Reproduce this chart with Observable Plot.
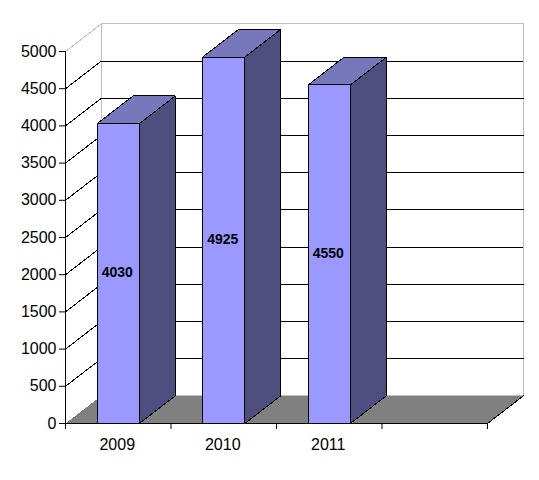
<!DOCTYPE html>
<html>
<head>
<meta charset="utf-8">
<script src="https://cdn.jsdelivr.net/npm/d3@7"></script>
<script src="https://cdn.jsdelivr.net/npm/@observablehq/plot@0.6"></script>
<style>html,body{margin:0;padding:0;background:#fff}svg{display:block}</style>
</head>
<body>
<div id="chart"></div>
<script>
const categories = ["2009", "2010", "2011"];
const values = [4030, 4925, 4550];
const yTicks = d3.range(0, 5001, 500);
const slotCount = 4;

const font = "Liberation Sans, Arial, sans-serif";
const depthX = 0.34;   // depth offset in category slots
const depthY = 372;    // depth offset in value units
const barStart = 0.3, barWidth = 0.4;
const light = "#9999ff", top_ = "#7777bb", side = "#4f4f7f", floor = "#808080", wall = "#c0c0c0";

const face = (pts, opts) => Plot.line([...pts, pts[0]], {x: "0", y: "1", curve: "linear", strokeWidth: 1, strokeLinejoin: "miter", shapeRendering: "crispEdges", ...opts});
const seg = (pts, stroke) => Plot.line(pts, {x: "0", y: "1", stroke, strokeWidth: 1, shapeRendering: "crispEdges"});

const marks = [
  // floor
  face([[0,0],[slotCount,0],[slotCount+depthX,depthY],[depthX,depthY]], {fill: floor, stroke: "none"}),
  // walls
  seg([[0,5000],[depthX,5000+depthY],[slotCount+depthX,5000+depthY],[slotCount+depthX,depthY],[depthX,depthY]], wall),
  seg([[depthX,depthY],[depthX,5000+depthY]], wall),
  seg([[slotCount,0],[slotCount+depthX,depthY]], "#000"),
];
// gridlines
for (const t of yTicks.slice(1, -1)) {
  marks.push(seg([[0,t],[depthX,t+depthY],[slotCount+depthX,t+depthY]], "#000"));
}
// bars
values.forEach((v, i) => {
  const x0 = i + barStart, x1 = x0 + barWidth;
  marks.push(
    face([[x1,0],[x1+depthX,depthY],[x1+depthX,v+depthY],[x1,v]], {fill: side, stroke: "#000"}),
    face([[x0,v],[x1,v],[x1+depthX,v+depthY],[x0+depthX,v+depthY]], {fill: top_, stroke: "#000"}),
    face([[x0,0],[x1,0],[x1,v],[x0,v]], {fill: light, stroke: "#000"})
  );
});
marks.push(
  Plot.axisY({ticks: yTicks, tickSize: 6, tickPadding: 3, tickFormat: "d", label: null, fontSize: 16, anchor: "left", stroke: "#000", color: "#000"}),
  Plot.axisX({ticks: d3.range(0, slotCount + 1), tickSize: 6, tickFormat: () => "", label: null, anchor: "bottom", stroke: "#000"}),
  seg([[0,0],[0,5000]], "#000"),
  seg([[0,0],[slotCount,0]], "#000"),
  Plot.text(values, {x: (d, i) => i + barStart + barWidth / 2, y: d => d / 2, text: d => String(d), dx: -1, dy: -1, fontWeight: "bold", fontSize: 14, fill: "#000"}),
  Plot.text(categories, {x: (d, i) => i + 0.5, y: 0, text: d => d, dx: -1, dy: 21, fontSize: 16, fill: "#000"})
);

const chart = Plot.plot({
  width: 539,
  height: 480,
  marginLeft: 65, marginRight: 52, marginTop: 51, marginBottom: 57,
  style: {fontFamily: font, background: "#fff", color: "#000", overflow: "visible"},
  x: {type: "linear", domain: [0, slotCount], axis: null},
  y: {type: "linear", domain: [0, 5000], axis: null},
  marks
});
document.getElementById("chart").appendChild(chart);
</script>
</body>
</html>
